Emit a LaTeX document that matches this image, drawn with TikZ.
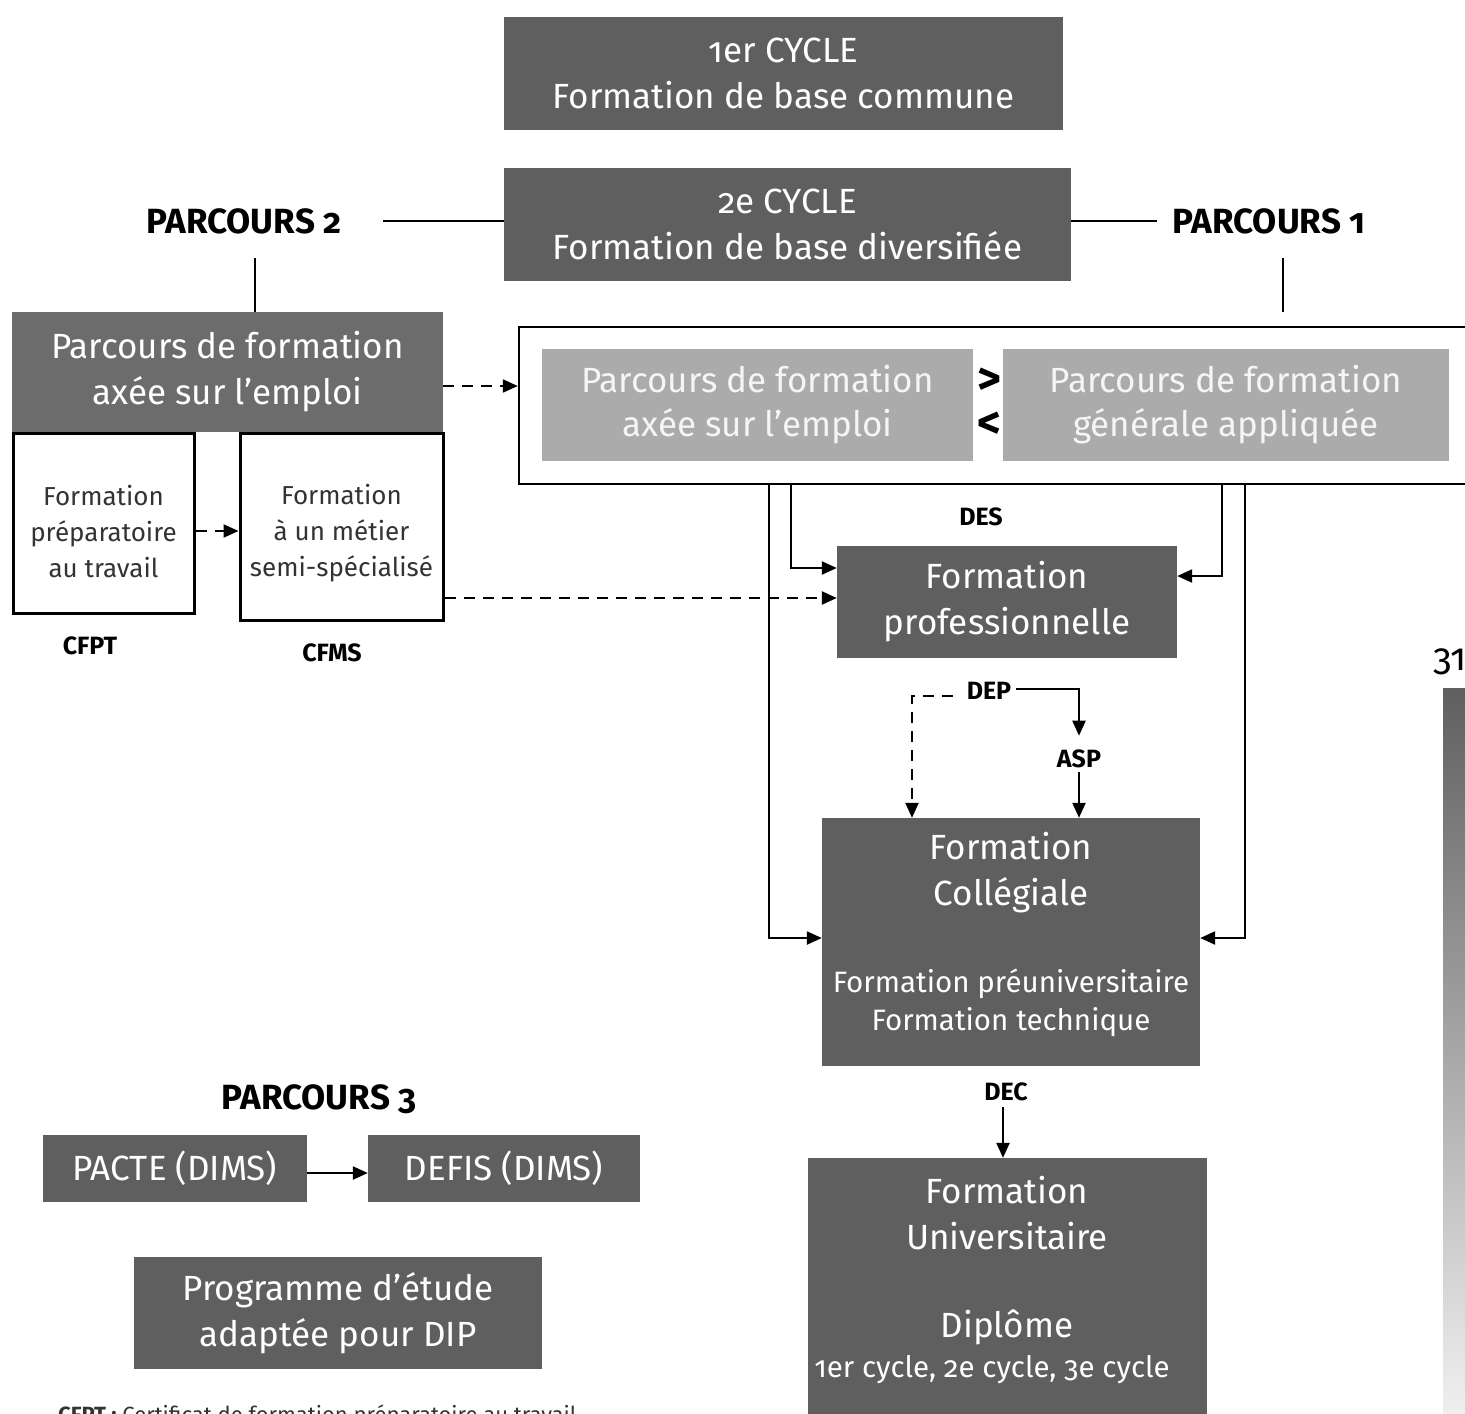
\documentclass[tikz,border=0pt]{standalone}
\usepackage{fontspec}
\setmainfont[Numbers=OldStyle]{Fira Sans}
\usetikzlibrary{arrows.meta,calc}
\definecolor{dk}{HTML}{5F5F5F}
\definecolor{md}{HTML}{6C6C6C}
\definecolor{lt}{HTML}{ABABAB}
\definecolor{tx}{HTML}{333333}
\begin{document}
\begin{tikzpicture}[x=1pt,y=-1pt,
  big/.style={font=\fontsize{35}{46}\selectfont},
  mid/.style={font=\fontsize{29.5}{38}\selectfont},
  sml/.style={font=\fontsize{26}{36}\selectfont},
  dbox/.style={fill=dk,text=white,inner sep=0pt,align=center,big},
  wbox/.style={draw=black,line width=3pt,fill=white,inner sep=0pt},
  wtxt/.style={text=tx,inner sep=0pt,align=center,sml},
  lbox/.style={fill=lt,text=white!96!black,inner sep=0pt,align=center,font=\fontsize{35}{44}\selectfont},
  plab/.style={inner sep=0pt,font=\bfseries\fontsize{35}{38}\selectfont},
  slab/.style={inner sep=0pt,font=\bfseries\fontsize{25}{28}\selectfont},
  ln/.style={line width=2.3pt},
  arr/.style={line width=2.3pt,-{Triangle[length=15pt,width=13pt]}},
  darr/.style={line width=2.3pt,dash pattern=on 11pt off 8pt,-{Triangle[length=15pt,width=13pt]}}
]
\useasboundingbox (0,0) rectangle (1465,1414);
\clip (0,0) rectangle (1465,1414);

% top boxes
\node[dbox,minimum width=559pt,minimum height=113pt] (c1) at (783.5,73.5) {1er CYCLE\\Formation de base commune};
\node[dbox,minimum width=567pt,minimum height=113pt] (c2) at (787.5,224.5) {2e CYCLE\\Formation de base diversifiée};

\node[plab] (p2) at (244,221) {PARCOURS 2};
\node[plab] (p1) at (1269,221) {PARCOURS 1};

\draw[ln] (383,0 |- p2.east) coordinate (q2) -- (q2 -| c2.west);
\draw[ln] (p1.west -| c2.east) -- ([xshift=-16pt]p1.west);

% left parcours
\node[dbox,fill=md,minimum width=431pt,minimum height=120pt] (pfe) at (227.5,372) {Parcours de formation\\axée sur l’emploi};
\draw[ln] ($(pfe.north)+(27.5,-54)$) -- ($(pfe.north)+(27.5,0)$);

\node[wbox,minimum width=181pt,minimum height=180pt] (cfpt) at (103.5,523) {};
\node[wtxt] (cfptt) at (103.5,532) {Formation\\préparatoire\\au travail};
\node[wbox,minimum width=203pt,minimum height=187pt] (cfms) at (341.5,526.5) {};
\node[wtxt] (cfmst) at (341.5,533) {Formation\\à un métier\\semi-spécialisé};
\node[slab] (lcfpt) at (90,646) {CFPT};
\node[slab] (lcfms) at (332,653) {CFMS};

% big white box
\node[draw=black,line width=2.5pt,fill=white,minimum width=960pt,minimum height=157pt,inner sep=0pt] (bigb) at (999,405.5) {};
\draw[ln] (1283,258) coordinate (p1s) -- (1283,312);
\node[lbox,minimum width=431pt,minimum height=112pt] (l1) at (757.5,405) {Parcours de formation\\axée sur l’emploi};
\node[lbox,minimum width=446pt,minimum height=112pt] (l2) at (1226,405) {Parcours de formation\\générale appliquée};
\node[inner sep=0pt,font=\bfseries\fontsize{46}{46}\selectfont] (gt) at (989,381) {>};
\node[inner sep=0pt,font=\bfseries\fontsize{46}{46}\selectfont] (lt) at (989,425) {<};

\draw[darr] ($(pfe.east)+(0,14)$) coordinate (a1) -- (a1 -| bigb.west);
\draw[darr] ($(cfpt.east)+(0,8)$) coordinate (a2) -- (a2 -| cfms.west);

% formation professionnelle
\node[slab] (des) at (981,517) {DES};
\node[dbox,minimum width=340pt,minimum height=112pt] (fp) at (1007,602) {Formation\\professionnelle};
\draw[darr] ($(cfms.east)+(0,71.5)$) coordinate (a3) -- (a3 -| fp.west);

\coordinate (o1) at (791,484);
\coordinate (o2) at (1222,484);
\coordinate (o3) at (769,484);
\coordinate (o4) at (1245,484);
\draw[arr] (o1) |- ($(fp.west)+(0,-34)$);
\draw[arr] (o2) |- ($(fp.east)+(0,-26)$);

% collegial
\node[fill=dk,minimum width=378pt,minimum height=248pt,inner sep=0pt] (fc) at (1011,942) {};
\node[big,text=white,inner sep=0pt,align=center] (fct1) at (1011,873) {Formation\\Collégiale};
\node[mid,text=white,inner sep=0pt,align=center] (fct2) at (1011,1003) {Formation préuniversitaire\\Formation technique};
\draw[arr] (o3) |- ($(fc.west)+(0,-4)$);
\draw[arr] (o4) |- ($(fc.east)+(0,-4)$);

\node[slab] (dep) at (989,691) {DEP};
\node[slab] (asp) at (1079,759) {ASP};
\draw[arr] ($(dep.east)+(5,-2)$) -| ($(asp.north)+(0,-14)$);
\draw[arr] ($(asp.south)+(0,4)$) -- (asp.south |- fc.north);
\draw[darr] ($(dep.west)+(-14,5)$) -| ($(fc.north)+(-99,0)$);

% universitaire
\node[slab] (dec) at (1006,1092) {DEC};
\node[fill=dk,minimum width=399pt,minimum height=280pt,inner sep=0pt] (fu) at (1007.5,1298) {};
\node[big,text=white,inner sep=0pt,align=center] (fut1) at (1007,1213) {Formation\\Universitaire};
\node[big,text=white,inner sep=0pt] (fut2) at (1007,1327) {Diplôme};
\node[mid,text=white,inner sep=0pt] (fut3) at (992,1370) {1er cycle, 2e cycle, 3e cycle};
\draw[arr] ($(dec.south)+(-3,6)$) -- ($(fu.north)+(-4.5,0)$);

% parcours 3
\node[plab] (p3) at (319,1099) {PARCOURS 3};
\node[dbox,minimum width=264pt,minimum height=67pt] (pacte) at (175,1168.5) {PACTE (DIMS)};
\node[dbox,minimum width=272pt,minimum height=67pt] (defis) at (504,1168.5) {DEFIS (DIMS)};
\draw[arr] ($(pacte.east)+(0,4.5)$) -- ($(defis.west)+(0,4.5)$);
\node[dbox,minimum width=408pt,minimum height=112pt] (dip) at (338,1313) {Programme d’étude\\adaptée pour DIP};

\node[anchor=base west,inner sep=0pt,font=\fontsize{22}{26}\selectfont,text=tx] (foot) at (58,1422) {\textbf{CFPT :} Certificat de formation préparatoire au travail};

% page number and gradient bar
\node[anchor=west,inner sep=0pt,font=\fontsize{38}{40}\selectfont] (pg) at (1433,662) {31};
\shade[top color=dk,bottom color=white!94!black] (1443,688) rectangle (1475,1414);
\end{tikzpicture}
\end{document}
